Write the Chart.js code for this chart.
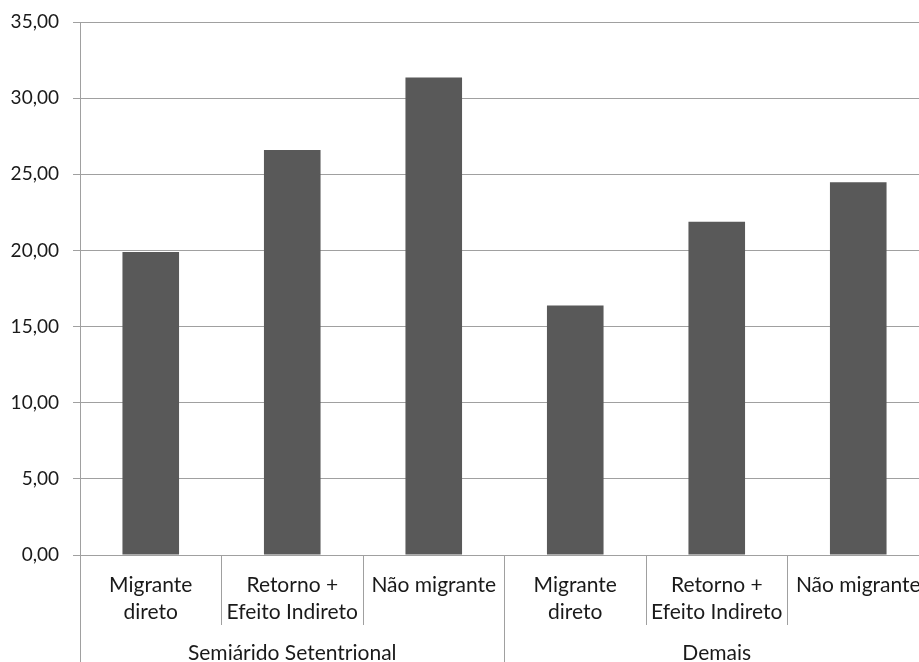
<!DOCTYPE html>
<html>
<head>
<meta charset="utf-8">
<script src="https://cdn.jsdelivr.net/npm/chart.js@4/dist/chart.umd.min.js"></script>
<style>
  html, body { margin: 0; padding: 0; background: #fff; overflow: hidden; }
  #wrap { position: relative; width: 929px; height: 662px; }
</style>
</head>
<body>
<div id="wrap"><canvas id="chart"></canvas></div>
<script>
const categories = [
  ['Migrante', 'direto'], ['Retorno +', 'Efeito Indireto'], 'Não migrante',
  ['Migrante', 'direto'], ['Retorno +', 'Efeito Indireto'], 'Não migrante'
];
const groups = ['Semiárido Setentrional', 'Demais'];
const values = [19.89, 26.60, 31.36, 16.38, 21.88, 24.47];

const FONT = 'Lato, "Open Sans", sans-serif';
const TEXT = '#1a1a1a';
const GRID = '#a0a0a0';

new Chart(document.getElementById('chart').getContext('2d'), {
  type: 'bar',
  data: {
    labels: categories,
    datasets: [{ data: values, backgroundColor: '#595959', barPercentage: 0.4, categoryPercentage: 1 }]
  },
  options: {
    responsive: true, maintainAspectRatio: false, animation: false,
    layout: { padding: { top: 22, left: 0, right: 0, bottom: 0 } },
    plugins: { legend: { display: false }, tooltip: { enabled: false } },
    scales: {
      y: {
        min: 0, max: 35,
        ticks: { stepSize: 5, color: TEXT, font: { family: FONT, size: 19 }, padding: 14,
                 callback: v => v.toFixed(2).replace('.', ',') },
        grid: { color: GRID, tickLength: 7 },
        border: { color: GRID },
        afterFit: s => { s.width = 80; s.paddingTop = 0; s.paddingBottom = 0; }
      },
      x: {
        weight: 0,
        ticks: { color: TEXT, font: { family: FONT, size: 21, lineHeight: 1.27 }, padding: -53,
                 maxRotation: 0, autoSkip: false },
        grid: { offset: true, drawOnChartArea: false, tickLength: 70, color: GRID },
        border: { color: GRID },
        afterFit: s => { s.height = 70; }
      },
      grp: {
        type: 'category', position: 'bottom', weight: 1, labels: groups, offset: true,
        ticks: { color: TEXT, font: { family: FONT, size: 21, lineHeight: 1.27 }, padding: -22,
                 maxRotation: 0, autoSkip: false },
        grid: { offset: true, drawOnChartArea: false, tickLength: 37, color: GRID },
        border: { display: false },
        afterFit: s => { s.height = 37; }
      }
    }
  }
});
</script>
</body>
</html>
